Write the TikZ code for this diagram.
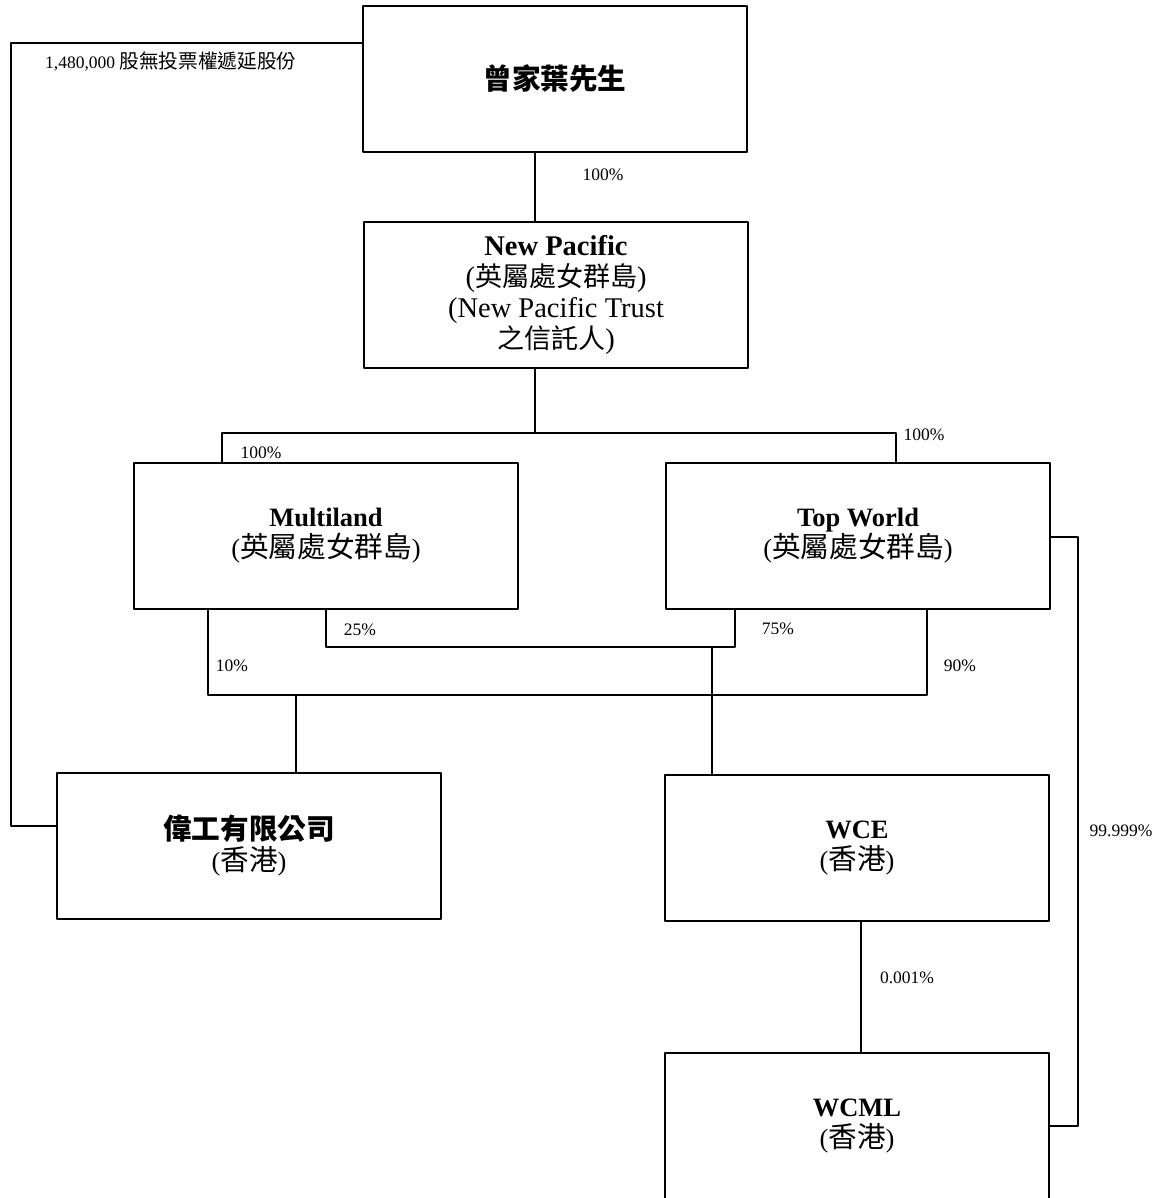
\documentclass[tikz,border=0pt]{standalone}
\usepackage{fontspec}
\setmainfont{Liberation Serif}
\newfontfamily\cjk[Scale=1.08]{Noto Sans CJK TC}
\newcommand\boxfont{\fontsize{26.5}{31}\selectfont}
\newcommand\npfont{\fontsize{28.5}{31}\selectfont}
\newcommand\npcjk[1]{{\fontsize{25}{31}\selectfont\cjk #1}}
\newcommand\pctfont{\fontsize{17.5}{21}\selectfont}
\begin{document}
\begin{tikzpicture}[x=1pt, y=-1pt, line join=round, line cap=round,
    entity/.style={draw, line width=2pt, minimum width=384pt, minimum height=146pt, inner sep=0pt, align=center, font=\boxfont},
    link/.style={line width=1.2pt},
    pct/.style={font=\pctfont, inner sep=0pt}]
            \def\W{1165} \def\H{1198}
            \useasboundingbox (0,0) rectangle (\W,\H);
            %\draw[color=gray!30] (0,0) grid[xstep=50,ystep=50] (\W,\H);
            \node[entity] (owner) at (555,79) {{\cjk\bfseries 曾家葉先生}};
            \node[entity, font=\npfont] (newpac) at (556,295) {\textbf{New Pacific}\\(\npcjk{英屬處女群島})\\(New Pacific Trust\\\npcjk{之信託人})};
            \node[entity] (multi) at (326,536) {\textbf{Multiland}\\({\cjk 英屬處女群島})};
            \node[entity] (topw) at (858,536) {\textbf{Top World}\\({\cjk 英屬處女群島})};
            \node[entity] (weigong) at (249,846) {{\cjk\bfseries 偉工有限公司}\\({\cjk 香港})};
            \node[entity] (wce) at (857,848) {\textbf{WCE}\\({\cjk 香港})};
            \node[entity] (wcml) at (857,1126) {\textbf{WCML}\\({\cjk 香港})};
            % junctions
            \coordinate (np) at (535,433); \coordinate (npL) at (222,433); \coordinate (npR) at (896,433);
            \coordinate (a1) at (326,647); \coordinate (a2) at (735,647); \coordinate (aW) at (712,647);
            \coordinate (b1) at (208,695); \coordinate (b2) at (927,695); \coordinate (bG) at (296,695);
            \coordinate (wx) at (861,985);
            \coordinate (r1) at (1078,537); \coordinate (r2) at (1078,1126);
            \coordinate (l1) at (11,43); \coordinate (l2) at (11,826);
            \draw[link] (owner.south -| np) -- (newpac.north -| np);
            \draw[link] (newpac.south -| np) -- (np);
            \draw[link] (multi.north -| npL) -- (npL) -- (npR) -- (topw.north -| npR);
            \draw[link] (multi.south -| a1) -- (a1) -- (a2) -- (topw.south -| a2);
            \draw[link] (aW) -- (wce.north -| aW);
            \draw[link] (multi.south -| b1) -- (b1) -- (b2) -- (topw.south -| b2);
            \draw[link] (bG) -- (weigong.north -| bG);
            \draw[link] (wce.south -| wx) -- (wcml.north -| wx);
            \draw[link] (topw.east |- r1) -- (r1) -- (r2) -- (wcml.east |- r2);
            \draw[link] (owner.west |- l1) -- (l1) -- (l2) -- (weigong.west |- l2);
            % holdings
            \node[pct] (p1) at (603,175) {100\%};
            \node[pct] (p2) at (261,453) {100\%};
            \node[pct] (p3) at (924,435) {100\%};
            \node[pct] (p4) at (360,630) {25\%};
            \node[pct] (p5) at (778,629) {75\%};
            \node[pct] (p6) at (232,666) {10\%};
            \node[pct] (p7) at (960,666) {90\%};
            \node[pct] (p8) at (907,978) {0.001\%};
            \node[pct] (p9) at (1121,831) {99.999\%};
            \node[pct, anchor=west] (shares) at (45,62) {1,480,000 {\cjk\fontsize{18.2}{21}\selectfont 股無投票權遞延股份}};
        \end{tikzpicture}
\end{document}
